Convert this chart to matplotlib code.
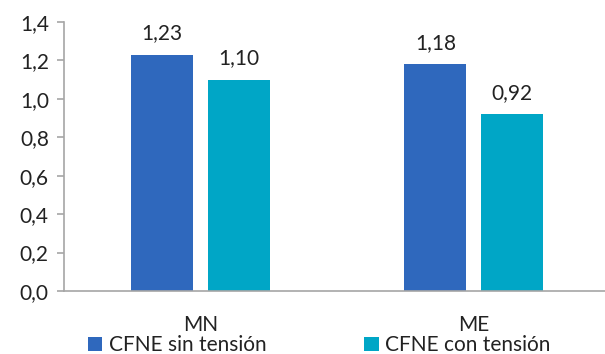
import numpy as np
import matplotlib.pyplot as plt
from matplotlib.ticker import FuncFormatter, MultipleLocator

plt.rcParams['font.family'] = ['Lato', 'DejaVu Sans']

categorias = ['MN', 'ME']
sin_tension = [1.23, 1.18]
con_tension = [1.10, 0.92]
series = ['CFNE sin tensión', 'CFNE con tensión']
colores = ['#2F68BD', '#00A6C6']

fig = plt.figure(figsize=(6.05, 3.54), dpi=100)
ax = fig.add_axes([0.106, 0.178, 0.894, 0.760])

x = np.arange(len(categorias))
ancho = 0.227
desp = 0.141

b1 = ax.bar(x - desp, sin_tension, ancho, color=colores[0], label=series[0])
b2 = ax.bar(x + desp, con_tension, ancho, color=colores[1], label=series[1])

for barras, vals in ((b1, sin_tension), (b2, con_tension)):
    for b, v in zip(barras, vals):
        ax.annotate('{:.2f}'.format(v).replace('.', ','),
                    (b.get_x() + b.get_width() / 2, v),
                    xytext=(0, 8), textcoords='offset points',
                    ha='center', va='bottom', fontsize=15, color='#222222')

ax.set_ylim(0, 1.4)
ax.set_xlim(-0.5, 1.48)
ax.yaxis.set_major_locator(MultipleLocator(0.2))
ax.yaxis.set_major_formatter(FuncFormatter(lambda v, p: '{:.1f}'.format(v).replace('.', ',')))
ax.set_xticks(x)
ax.set_xticklabels(categorias)

for s in ('top', 'right'):
    ax.spines[s].set_visible(False)
for s in ('left', 'bottom'):
    ax.spines[s].set_color('#A6A6A6')
    ax.spines[s].set_linewidth(1.2)

ax.tick_params(axis='y', colors='#A6A6A6', length=5, width=1.2, labelcolor='#222222',
               labelsize=15, pad=6)
ax.tick_params(axis='x', length=0, labelsize=15, labelcolor='#222222', pad=17)

fig.legend(handles=[b1, b2], loc='center left', bbox_to_anchor=(0.145, 0.025),
           borderaxespad=0, borderpad=0,
           ncol=2, frameon=False, fontsize=15, handlelength=0.7, handleheight=0.7,
           handletextpad=0.3, columnspacing=4.7, labelcolor='#222222')

fig.savefig('out.png', dpi=100)
